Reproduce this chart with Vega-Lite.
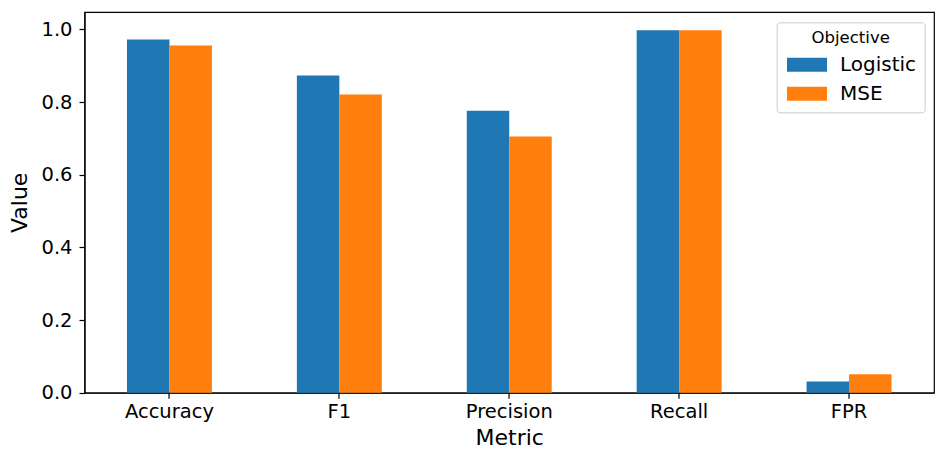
{
  "$schema": "https://vega.github.io/schema/vega-lite/v6.json",
  "width": 849.5,
  "height": 380.7,
  "autosize": {"type": "none"},
  "padding": {"left": 84.5, "top": 12, "right": 11.5, "bottom": 72.3},
  "config": {
    "font": "DejaVu Sans",
    "view": {"stroke": "#000", "strokeWidth": 1.2},
    "axis": {
      "domainColor": "#000",
      "tickColor": "#000",
      "labelColor": "#000",
      "titleColor": "#000",
      "titleFontWeight": "normal",
      "tickSize": 5.5,
      "tickWidth": 1.2,
      "domainWidth": 1.2,
      "labelFontSize": 19.5,
      "titleFontSize": 22,
      "grid": false
    }
  },
  "data": {
    "values": [
      {"Metric": "Accuracy", "Objective": "Logistic", "Value": 0.972},
      {"Metric": "Accuracy", "Objective": "MSE", "Value": 0.956},
      {"Metric": "F1", "Objective": "Logistic", "Value": 0.873},
      {"Metric": "F1", "Objective": "MSE", "Value": 0.821},
      {"Metric": "Precision", "Objective": "Logistic", "Value": 0.776},
      {"Metric": "Precision", "Objective": "MSE", "Value": 0.705},
      {"Metric": "Recall", "Objective": "Logistic", "Value": 0.998},
      {"Metric": "Recall", "Objective": "MSE", "Value": 0.998},
      {"Metric": "FPR", "Objective": "Logistic", "Value": 0.031},
      {"Metric": "FPR", "Objective": "MSE", "Value": 0.051}
    ]
  },
  "mark": {"type": "bar"},
  "encoding": {
    "x": {
      "field": "Metric",
      "type": "nominal",
      "sort": ["Accuracy", "F1", "Precision", "Recall", "FPR"],
      "scale": {"paddingInner": 0.5, "paddingOuter": 0.25},
      "axis": {"labelAngle": 0, "labelPadding": 4, "titlePadding": 7}
    },
    "xOffset": {
      "field": "Objective",
      "type": "nominal",
      "sort": ["Logistic", "MSE"],
      "scale": {"paddingInner": 0, "paddingOuter": 0}
    },
    "y": {
      "field": "Value",
      "type": "quantitative",
      "scale": {"domain": [0, 1.048], "nice": false, "zero": true},
      "axis": {"values": [0, 0.2, 0.4, 0.6, 0.8, 1.0], "format": ".1f", "labelPadding": 7, "titlePadding": 9, "domain": true}
    },
    "color": {
      "field": "Objective",
      "type": "nominal",
      "sort": ["Logistic", "MSE"],
      "scale": {"domain": ["Logistic", "MSE"], "range": ["#1f77b4", "#ff7f0e"]},
      "legend": {
        "orient": "none",
        "legendX": 692.2,
        "legendY": 10.3,
        "title": "Objective",
        "titleFontSize": 16.5,
        "titleFontWeight": "normal",
        "titleColor": "#000",
        "titleAnchor": "middle",
        "titlePadding": 8,
        "labelFontSize": 20,
        "labelColor": "#000",
        "symbolType": "M-2.857,-1H2.857V1H-2.857Z",
        "symbolSize": 196,
        "symbolStrokeWidth": 0,
        "symbolOpacity": 1,
        "symbolOffset": 12.3,
        "labelOffset": 23,
        "rowPadding": 9,
        "padding": 8,
        "strokeColor": "#cccccc",
        "fillColor": "#ffffff",
        "cornerRadius": 3
      }
    }
  }
}
